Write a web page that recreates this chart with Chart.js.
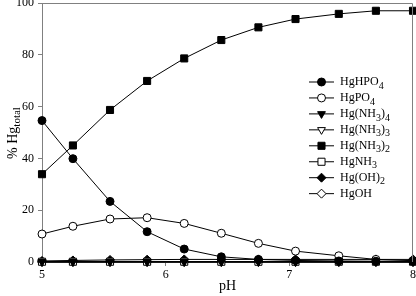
<!DOCTYPE html>
<html><head><meta charset="utf-8">
<script src="https://cdn.jsdelivr.net/npm/chart.js@4/dist/chart.umd.min.js"></script>
<style>html,body{margin:0;padding:0;background:#fff}</style>
</head><body>
<canvas id="c" width="416" height="296"></canvas>
<script>
const pH = [5.0, 5.25, 5.55, 5.85, 6.15, 6.45, 6.75, 7.05, 7.4, 7.7, 8.0];
const HgHPO4  = [54.6, 39.9, 23.4, 11.7, 5.0, 2.0, 1.0, 0.6, 0.4, 0.3, 0.3];
const HgPO4   = [10.8, 13.8, 16.6, 17.1, 14.9, 11.1, 7.2, 4.2, 2.4, 1.0, 0.5];
const HgNH3_4 = [0.1, 0.1, 0.1, 0.1, 0.1, 0.1, 0.1, 0.1, 0.1, 0.1, 0.1];
const HgNH3_3 = [0.1, 0.1, 0.1, 0.1, 0.1, 0.1, 0.1, 0.1, 0.1, 0.1, 0.1];
const HgNH3_2 = [33.9, 45.0, 58.7, 69.9, 78.6, 85.7, 90.6, 93.8, 95.8, 97.0, 97.0];
const HgNH3   = [0.1, 0.1, 0.1, 0.1, 0.1, 0.1, 0.1, 0.1, 0.1, 0.1, 0.1];
const HgOH2   = [0.4, 0.6, 0.8, 0.9, 1.0, 1.0, 1.0, 1.0, 1.0, 1.0, 1.0];
const HgOH    = [0.0, 0.0, 0.0, 0.0, 0.0, 0.0, 0.0, 0.0, 0.0, 0.0, 0.0];
const seriesNames = ['HgHPO4', 'HgPO4', 'Hg(NH3)4', 'Hg(NH3)3', 'Hg(NH3)2', 'HgNH3', 'Hg(OH)2', 'HgOH'];
const seriesValues = [HgHPO4, HgPO4, HgNH3_4, HgNH3_3, HgNH3_2, HgNH3, HgOH2, HgOH];
const xTicks = [5, 6, 7, 8];
const yTicks = [0, 20, 40, 60, 80, 100];

const markers = [
  {style:'circle', fill:'#000', r:4, rot:0},
  {style:'circle', fill:'#fff', r:4, rot:0},
  {style:'triangle', fill:'#000', r:4.5, rot:180},
  {style:'triangle', fill:'#fff', r:4.5, rot:180},
  {style:'rect', fill:'#000', r:5, rot:0},
  {style:'rect', fill:'#fff', r:5, rot:0},
  {style:'rectRot', fill:'#000', r:4.5, rot:0},
  {style:'rectRot', fill:'#fff', r:4.5, rot:0}
];

const FONT = '"Liberation Serif", "Times New Roman", serif';

function drawSubText(ctx, text, x, y, size, subSize, subShift, isSub) {
  let cx = x;
  for (const ch of text) {
    const sub = isSub(ch);
    ctx.font = (sub ? subSize : size) + 'px ' + FONT;
    ctx.fillText(ch, cx, y + (sub ? subShift : 0));
    cx += ctx.measureText(ch).width;
  }
  return cx;
}

function drawMarker(ctx, m, x, y) {
  ctx.save();
  ctx.beginPath();
  ctx.fillStyle = m.fill;
  ctx.strokeStyle = '#000';
  ctx.lineWidth = 1;
  if (m.style === 'circle') {
    ctx.arc(x, y, m.r, 0, Math.PI * 2);
  } else if (m.style === 'rect') {
    const s = Math.SQRT1_2 * m.r;
    ctx.rect(x - s, y - s, 2 * s, 2 * s);
  } else if (m.style === 'rectRot') {
    ctx.moveTo(x, y - m.r); ctx.lineTo(x + m.r, y); ctx.lineTo(x, y + m.r); ctx.lineTo(x - m.r, y); ctx.closePath();
  } else if (m.style === 'triangle') {
    const r = m.r;
    ctx.moveTo(x - r * 0.866, y - r * 0.5); ctx.lineTo(x + r * 0.866, y - r * 0.5); ctx.lineTo(x, y + r); ctx.closePath();
  }
  ctx.fill();
  ctx.stroke();
  ctx.restore();
}

const extras = {
  id: 'extras',
  afterDraw(chart) {
    const ctx = chart.ctx;
    const a = chart.chartArea;
    ctx.save();
    ctx.strokeStyle = '#808080';
    ctx.lineWidth = 1;
    ctx.beginPath();
    ctx.moveTo(a.left, a.top + 0.5);
    ctx.lineTo(a.right - 0.5, a.top + 0.5);
    ctx.lineTo(a.right - 0.5, a.bottom);
    ctx.stroke();
    ctx.fillStyle = '#000';
    ctx.textBaseline = 'middle';
    ctx.textAlign = 'left';
    seriesNames.forEach((name, i) => {
      const y = 82 + i * 15.95;
      ctx.strokeStyle = '#000';
      ctx.lineWidth = 1;
      ctx.beginPath();
      ctx.moveTo(309, y); ctx.lineTo(334, y); ctx.stroke();
      drawMarker(ctx, markers[i], 321.5, y);
      ctx.fillStyle = '#000';
      drawSubText(ctx, name, 340, y, 12, 10, 4, ch => /[0-9]/.test(ch));
    });
    ctx.save();
    ctx.translate(13, 133);
    ctx.rotate(-Math.PI / 2);
    ctx.textBaseline = 'middle';
    ctx.textAlign = 'left';
    ctx.font = '14px ' + FONT;
    const main = '% Hg', sub = 'total';
    const wMain = ctx.measureText(main).width;
    ctx.font = '11px ' + FONT;
    const wSub = ctx.measureText(sub).width;
    const start = -(wMain + wSub) / 2;
    ctx.font = '14px ' + FONT;
    ctx.fillText(main, start, 0);
    ctx.font = '11px ' + FONT;
    ctx.fillText(sub, start + wMain, 4);
    ctx.restore();
    ctx.restore();
  }
};

const datasets = seriesNames.map((name, i) => ({
  label: name,
  data: pH.map((x, j) => ({x: x, y: seriesValues[i][j]})),
  borderColor: '#000',
  borderWidth: 1,
  backgroundColor: markers[i].fill,
  pointBackgroundColor: markers[i].fill,
  pointBorderColor: '#000',
  pointBorderWidth: 1,
  pointStyle: markers[i].style,
  pointRotation: markers[i].rot,
  pointRadius: markers[i].r,
  pointHoverRadius: markers[i].r,
  tension: 0,
  fill: false,
  clip: false
}));

new Chart(document.getElementById('c'), {
  type: 'line',
  data: { datasets },
  plugins: [extras],
  options: {
    responsive: false,
    devicePixelRatio: 1,
    animation: false,
    events: [],
    layout: { autoPadding: false, padding: { top: 3, right: 3, left: 0, bottom: 0 } },
    plugins: { legend: { display: false }, tooltip: { enabled: false } },
    scales: {
      x: {
        type: 'linear', min: 5, max: 8,
        afterFit(s) { s.height = 34; s.paddingLeft = 0; s.paddingRight = 0; },
        afterBuildTicks(s) { s.ticks = xTicks.map(v => ({value: v})); },
        grid: { display: true, drawOnChartArea: false, drawTicks: true, tickLength: 4, color: '#808080' },
        border: { display: true, color: '#808080', width: 1 },
        ticks: { color: '#000', padding: 2, maxRotation: 0, font: { family: FONT, size: 12 } },
        title: { display: true, text: 'pH', color: '#000', padding: { top: 0, bottom: 1 }, font: { family: FONT, size: 14 } }
      },
      y: {
        type: 'linear', min: 0, max: 100,
        afterFit(s) { s.width = 42; s.paddingTop = 0; s.paddingBottom = 0; },
        afterBuildTicks(s) { s.ticks = yTicks.map(v => ({value: v})); },
        grid: { display: true, drawOnChartArea: false, drawTicks: true, tickLength: 4, color: '#808080' },
        border: { display: true, color: '#808080', width: 1 },
        ticks: { color: '#000', padding: 4, font: { family: FONT, size: 12 } },
        title: { display: false }
      }
    }
  }
});
</script>
</body></html>
